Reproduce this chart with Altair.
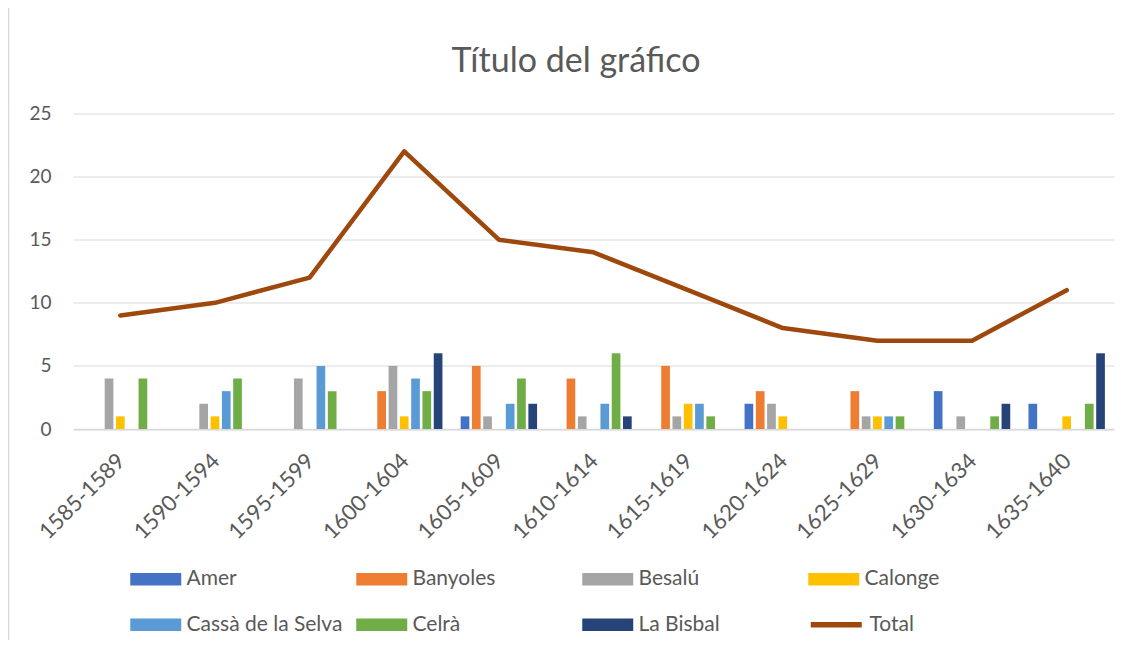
import altair as alt
import pandas as pd

periods = ["1585-1589", "1590-1594", "1595-1599", "1600-1604", "1605-1609",
           "1610-1614", "1615-1619", "1620-1624", "1625-1629", "1630-1634", "1635-1640"]
series_names = ["Amer", "Banyoles", "Besalú", "Calonge", "Cassà de la Selva", "Celrà", "La Bisbal"]
amer = [0, 0, 0, 0, 1, 0, 0, 2, 0, 3, 2]
banyoles = [0, 0, 0, 3, 5, 4, 5, 3, 3, 0, 0]
besalu = [4, 2, 4, 5, 1, 1, 1, 2, 1, 1, 0]
calonge = [1, 1, 0, 1, 0, 0, 2, 1, 1, 0, 1]
cassa = [0, 3, 5, 4, 2, 2, 2, 0, 1, 0, 0]
celra = [4, 4, 3, 3, 4, 6, 1, 0, 1, 1, 2]
bisbal = [0, 0, 0, 6, 2, 1, 0, 0, 0, 2, 6]
total = [9, 10, 12, 22, 15, 14, 11, 8, 7, 7, 11]
colors = ["#4472C4", "#ED7D31", "#A5A5A5", "#FFC000", "#5B9BD5", "#70AD47", "#264478"]
total_color = "#9E480E"
title_text = "Título del gráfico"

values = [amer, banyoles, besalu, calonge, cassa, celra, bisbal]
rows = []
for name, vals in zip(series_names, values):
    for p, v in zip(periods, vals):
        if v > 0:
            rows.append({"period": p, "series": name, "value": v})
bars_df = pd.DataFrame(rows)
total_df = pd.DataFrame({"period": periods, "value": total, "series": ["Total"] * len(periods)})

FONT = "Lato"
GRAY = "#595959"

x_enc = alt.X("period:N", sort=periods, title=None,
              scale=alt.Scale(paddingInner=0.165, paddingOuter=0.0826),
              axis=alt.Axis(labelAngle=-45, ticks=False, domainColor="#D9D9D9", domainWidth=1.5,
                            labelAlign="right", labelBaseline="middle",
                            labelFont=FONT, labelFontSize=22, labelColor=GRAY,
                            labelPadding=28, labelOffset=1))
y_enc = alt.Y("value:Q", title=None,
              scale=alt.Scale(domain=[0, 25], nice=False),
              axis=alt.Axis(values=[0, 5, 10, 15, 20, 25], ticks=False, domain=False,
                            gridColor="#D9D9D9", gridWidth=1,
                            labelFont=FONT, labelFontSize=19, labelColor=GRAY, labelPadding=22))

bars = alt.Chart(bars_df).mark_bar().encode(
    x=x_enc,
    xOffset=alt.XOffset("series:N", sort=series_names,
                        scale=alt.Scale(domain=series_names, paddingInner=0.23, paddingOuter=0.115)),
    y=y_enc,
    color=alt.Color("series:N", sort=series_names,
                    scale=alt.Scale(domain=series_names, range=colors),
                    legend=alt.Legend(title=None, orient="none", legendX=57, legendY=452.75,
                                      direction="horizontal", columns=4, gridAlign="all",
                                      columnPadding=13, rowPadding=22.5,
                                      symbolType="M-1,-0.5H3V0.5H-1Z", symbolSize=650,
                                      symbolStrokeWidth=0, labelOffset=30.5,
                                      labelFont=FONT, labelFontSize=21, labelColor=GRAY,
                                      padding=0, labelLimit=400)),
)

line = alt.Chart(total_df).mark_line(strokeWidth=4.5, strokeCap="round", strokeJoin="round").encode(
    x=alt.X("period:N", sort=periods),
    y=alt.Y("value:Q"),
    stroke=alt.Stroke("series:N",
                      scale=alt.Scale(domain=["Total"], range=[total_color]),
                      legend=alt.Legend(title=None, orient="none", legendX=735, legendY=495.75,
                                        symbolType="M-1,0H3", symbolSize=650, symbolStrokeWidth=5.5,
                                        labelOffset=30.5, labelFont=FONT, labelFontSize=21,
                                        labelColor=GRAY, padding=0)),
)

one = pd.DataFrame({"k": [0]})

# chart title, centred on the whole chart area
title = alt.Chart(one).mark_text(font=FONT, fontSize=34, color=GRAY, align="center",
                                 baseline="alphabetic").encode(
    text=alt.value(title_text), x=alt.value(503), y=alt.value(-41.5)
)

# light chart-area border on the left edge (Excel chart frame)
frame = alt.Chart(one).mark_rule(color="#D9D9D9", strokeWidth=1.5).encode(
    x=alt.value(-64.5), y=alt.value(-105.5), y2=alt.value(526.5)
)

chart = alt.layer(bars, line, title, frame).properties(
    width=1041, height=315.5,
    autosize=alt.AutoSizeParams(type="none"),
    padding={"left": 65, "top": 105.5, "right": 9, "bottom": 211},
).configure(background="white").configure_view(stroke=None, strokeWidth=0)

chart.save("out.html", embed_options={"renderer": "svg", "actions": False})
